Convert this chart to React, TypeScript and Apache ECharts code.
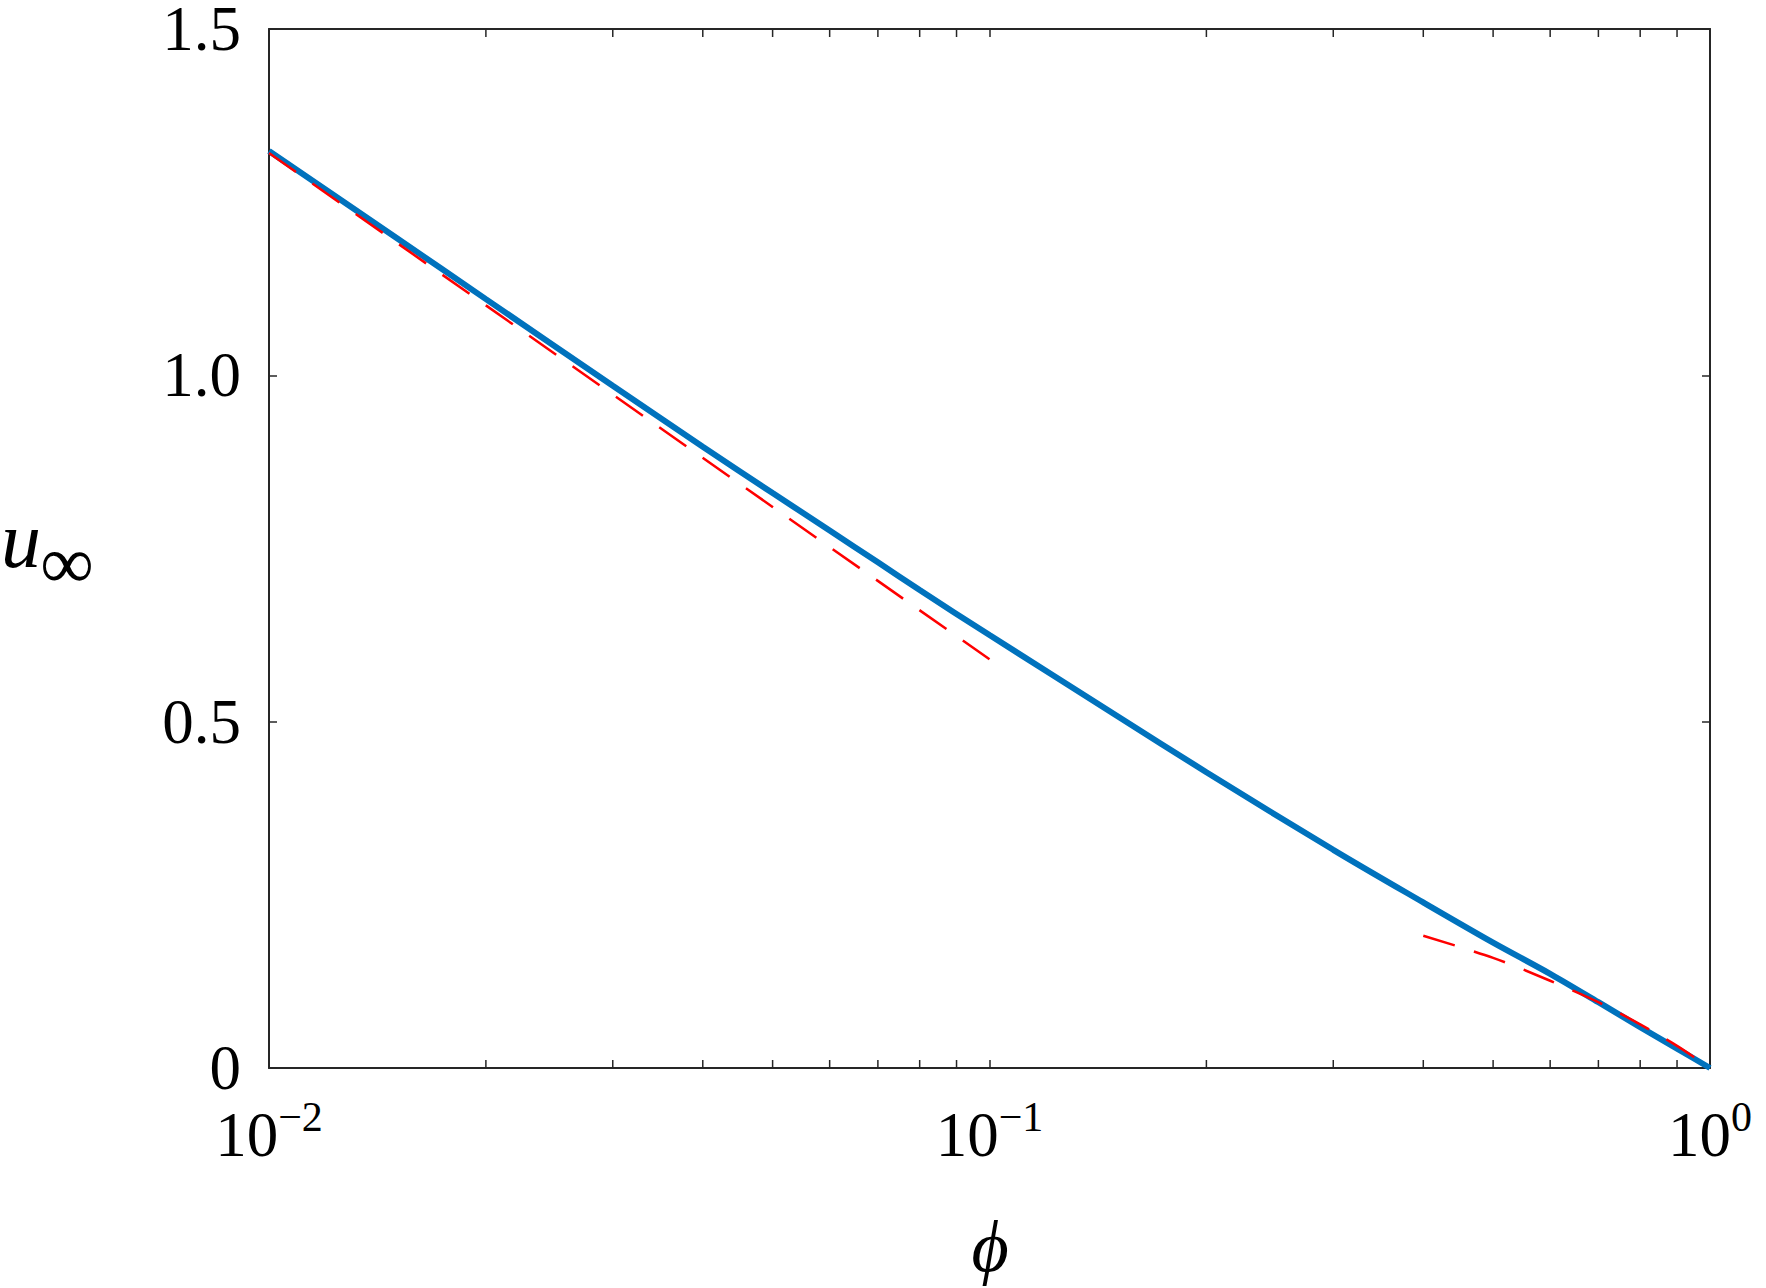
import React, { useEffect, useRef } from 'react';
import * as echarts from 'echarts';

// ---- data ----
const blueX = [0.01, 0.015, 0.02, 0.03, 0.04, 0.05, 0.06, 0.07, 0.08, 0.1, 0.15, 0.2, 0.3, 0.4, 0.5, 0.6, 0.7, 0.8, 0.9, 1.0];
const blueY = [1.324, 1.199, 1.11, 0.985, 0.897, 0.83, 0.776, 0.73, 0.69, 0.625, 0.509, 0.427, 0.315, 0.239, 0.181, 0.136, 0.095, 0.059, 0.028, 0.0];
const redSmallX = [0.01, 0.02, 0.05, 0.1];
const redSmallY = [1.321, 1.101, 0.81, 0.59];
const redLargeX = [0.4, 0.5, 0.6, 0.7, 0.8, 0.9, 1.0];
const redLargeY = [0.191, 0.159, 0.126, 0.095, 0.063, 0.032, 0.0];
const xMajorTicks = [0.01, 0.1, 1];
const xTickExponents = ['−2', '−1', '0'];
const xMinorTicks = [0.02, 0.03, 0.04, 0.05, 0.06, 0.07, 0.08, 0.09, 0.2, 0.3, 0.4, 0.5, 0.6, 0.7, 0.8, 0.9];
const yTicks = [0, 0.5, 1.0, 1.5];
const yTickLabels = ['0', '0.5', '1.0', '1.5'];

const FONT = '"Liberation Serif", "DejaVu Serif", serif';
const AX = '#262626';

const zip = (xs: number[], ys: number[]) => xs.map((x, i) => [x, ys[i]]);

export default function App() {
  const ref = useRef<HTMLDivElement>(null);
  useEffect(() => {
    document.body.style.margin = '0';
    const chart = echarts.init(ref.current!, null, { renderer: 'svg' });
    const axisLine = { show: true, onZero: false, lineStyle: { color: AX, width: 2 } };
    const axisTick = { show: true, inside: true, length: 8, lineStyle: { color: AX, width: 1.5 } };
    const xLabelFmt = (v: number) => {
      const i = xMajorTicks.findIndex((t) => Math.abs(Math.log10(t) - Math.log10(v)) < 1e-6);
      return i < 0 ? '' : `{a|10}{b|${xTickExponents[i]}}`;
    };
    const yLabelFmt = (v: number) => {
      const i = yTicks.findIndex((t) => Math.abs(t - v) < 1e-9);
      return i < 0 ? '' : yTickLabels[i];
    };
    const option: any = {
      animation: false,
      backgroundColor: '#fff',
      grid: { left: 269, top: 29, width: 1441, height: 1039, containLabel: false, outerBoundsMode: 'none' },
      xAxis: [
        {
          type: 'log', logBase: 10, min: 0.01, max: 1, splitNumber: 2, position: 'bottom',
          axisLine, axisTick,
          splitLine: { show: false }, minorTick: { show: false },
          axisLabel: {
            show: true, margin: 28, formatter: xLabelFmt, color: '#000',
            rich: {
              a: { fontSize: 63, fontFamily: FONT, color: '#000', verticalAlign: 'bottom', padding: [7, 0, 0, 0] },
              b: { fontSize: 42, fontFamily: FONT, color: '#000', verticalAlign: 'top' },
            },
          },
        },
        {
          type: 'log', logBase: 10, min: 0.01, max: 1, splitNumber: 2, position: 'top',
          axisLine, axisTick, splitLine: { show: false }, minorTick: { show: false },
          axisLabel: { show: false },
        },
      ],
      yAxis: [
        {
          type: 'value', min: 0, max: 1.5, interval: 0.5, position: 'left',
          axisLine, axisTick, splitLine: { show: false },
          axisLabel: { show: true, margin: 28, formatter: yLabelFmt, fontSize: 63, lineHeight: 50, fontFamily: FONT, color: '#000' },
        },
        {
          type: 'value', min: 0, max: 1.5, interval: 0.5, position: 'right',
          axisLine, axisTick, splitLine: { show: false }, axisLabel: { show: false },
        },
      ],
      series: [
        {
          type: 'line', data: zip(blueX, blueY), xAxisIndex: 0, yAxisIndex: 0,
          showSymbol: false, symbol: 'none', smooth: 0.3,
          lineStyle: { color: '#0072BD', width: 6 }, z: 3, silent: true,
        },
        {
          type: 'line', data: zip(redSmallX, redSmallY), xAxisIndex: 0, yAxisIndex: 0,
          showSymbol: false, symbol: 'none',
          lineStyle: { color: '#FF0000', width: 2.5, type: [33, 20] }, z: 4, silent: true,
        },
        {
          type: 'line', data: zip(redLargeX, redLargeY), xAxisIndex: 0, yAxisIndex: 0,
          showSymbol: false, symbol: 'none', smooth: 0.3,
          lineStyle: { color: '#FF0000', width: 2.5, type: [33, 20] }, z: 4, silent: true,
        },
        {
          type: 'custom', xAxisIndex: 0, yAxisIndex: 0, silent: true, clip: false, z: 5,
          data: xMinorTicks.map((v) => [v, 0]),
          encode: { x: 0, y: 1 },
          renderItem: (params: any, api: any) => {
            const v = api.value(0);
            const b = api.coord([v, 0]);
            const t = api.coord([v, 1.5]);
            const style = { stroke: AX, lineWidth: 1.5 };
            return {
              type: 'group',
              children: [
                { type: 'line', shape: { x1: b[0], y1: b[1], x2: b[0], y2: b[1] - 8 }, style },
                { type: 'line', shape: { x1: t[0], y1: t[1], x2: t[0], y2: t[1] + 8 }, style },
              ],
            };
          },
        },
      ],
      graphic: [
        {
          type: 'text', x: 21, y: 540,
          style: { text: 'u', font: `italic 80px ${FONT}`, fill: '#000', align: 'center', verticalAlign: 'middle' },
        },
        {
          type: 'text', x: 67, y: 562,
          style: { text: '∞', font: `75px ${FONT}`, fill: '#000', align: 'center', verticalAlign: 'middle' },
        },
        {
          type: 'text', x: 990, y: 1247,
          style: { text: 'ϕ', font: `italic 72px ${FONT}`, fill: '#000', align: 'center', verticalAlign: 'middle' },
        },
      ],
    };
    chart.setOption(option);
    return () => chart.dispose();
  }, []);
  return <div ref={ref} style={{ width: 1766, height: 1288 }} />;
}
